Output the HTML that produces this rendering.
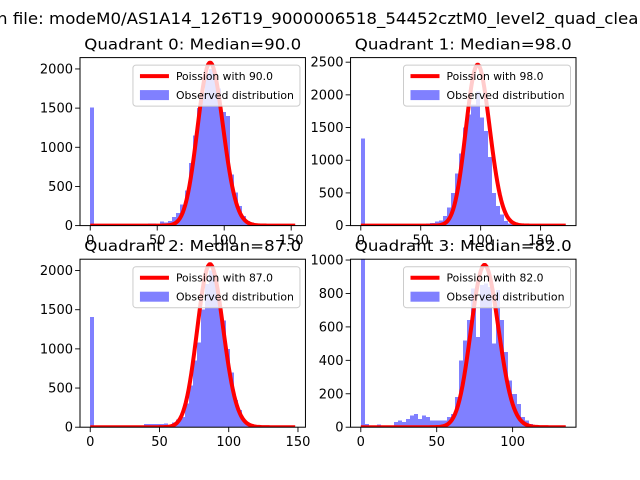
<!DOCTYPE html>
<html><head><meta charset="utf-8">
<style>
html,body{margin:0;padding:0;background:#fff;}
svg{display:block;font-family:"DejaVu Sans","Liberation Sans",sans-serif;}
</style></head>
<body>
<svg id="fig" width="640" height="480" viewBox="0 0 640 480" xmlns="http://www.w3.org/2000/svg">
<rect x="0" y="0" width="640" height="480" fill="#fff"/>
<text x="323" y="24" font-size="16" text-anchor="middle" textLength="652" lengthAdjust="spacingAndGlyphs">n file: modeM0/AS1A14_126T19_9000006518_54452cztM0_level2_quad_clean</text>
</svg>
<script>
const titles = ["Quadrant 0: Median=90.0","Quadrant 1: Median=98.0","Quadrant 2: Median=87.0","Quadrant 3: Median=82.0"];
const medians = [90, 98, 87, 82];
const poissonPeaks = [2080, 2460, 2080, 970];
const dataMax = [153, 171, 148, 135];
const yLimits = [2145, 2570, 2145, 1005];
const yTicks0 = [0,500,1000,1500,2000];
const yTicks1 = [0,500,1000,1500,2000,2500];
const yTicks2 = [0,500,1000,1500,2000];
const yTicks3 = [0,200,400,600,800,1000];
const xTicks0 = [0,50,100,150];
const xTicks1 = [0,50,100,150];
const xTicks2 = [0,50,100,150];
const xTicks3 = [0,50,100];
const q0Counts = [1510,10,5,5,5,5,5,5,5,10,10,15,20,20,30,30,20,50,40,60,110,160,270,450,800,1150,1500,1700,1950,2000,1950,1750,1450,1400,650,420,250,120,60,40,20,10,5,5,3,3,3,3,3,3];
const q1Counts = [1330,10,5,5,5,5,5,5,5,5,5,10,10,10,20,15,30,40,60,80,150,280,500,800,1100,1500,1700,1850,2050,1650,1450,1050,500,300,170,70,30,15,8,5,3,3,3,3,3,3,3,3,3,3];
const q2Counts = [1410,5,5,5,5,5,5,5,5,5,5,10,20,40,40,40,40,40,50,30,60,100,130,300,530,850,1080,1500,1830,2000,1900,1650,1360,1000,700,350,220,80,50,20,10,5,3,3,3,3,3,3,3,3];
const q3Counts = [1100,20,5,3,15,3,3,3,30,40,30,50,70,80,50,70,60,40,40,40,40,60,80,180,400,520,640,830,540,850,860,840,500,820,640,450,280,200,140,60,40,20,10,3,3,3,3,3,3,3];

const NS = "http://www.w3.org/2000/svg";
const svg = document.getElementById("fig");
function mk(tag, attrs, parent){const e=document.createElementNS(NS,tag);for(const k in attrs)e.setAttribute(k,attrs[k]);(parent||svg).appendChild(e);return e;}
function lnFact(n){let s=0;for(let i=2;i<=n;i++)s+=Math.log(i);return s;}

const countsAll=[q0Counts,q1Counts,q2Counts,q3Counts];
const yTicksAll=[yTicks0,yTicks1,yTicks2,yTicks3];
const xTicksAll=[xTicks0,xTicks1,xTicks2,xTicks3];
const AW=225.45, AH=168;
const origins=[[80,57.6],[350.55,57.6],[80,259.2],[350.55,259.2]];

for(let q=0;q<4;q++){
  const [ax,ay]=origins[q];
  const xmax=dataMax[q], xmin0=-0.05*xmax, xmax0=1.05*xmax;
  const ymax=yLimits[q];
  const X=v=>ax+(v-xmin0)/(xmax0-xmin0)*AW;
  const Y=v=>ay+AH-v/ymax*AH;
  const g=mk("g",{});
  
  
  mk("clipPath",{id:"clip"+q},g).appendChild(document.createElementNS(NS,"rect"));
  const cr=g.querySelector("clipPath rect");cr.setAttribute("x",ax);cr.setAttribute("y",ay);cr.setAttribute("width",AW);cr.setAttribute("height",AH);
  const plot=mk("g",{"clip-path":"url(#clip"+q+")"},g);
  const bars=mk("g",{"shape-rendering":"crispEdges"},plot);
  const counts=countsAll[q], n=counts.length, bw=xmax/n;
  for(let i=0;i<n;i++){
    const x0=Math.round(X(i*bw)), x1=Math.round(X((i+1)*bw));
    const b=mk("rect",{x:x0,y:Y(counts[i]),width:x1-x0,height:Y(0)-Y(counts[i]),fill:"#8080ff"},bars);
    
    
  }
  const mu=medians[q], lpm=mu*Math.log(mu)-mu-lnFact(mu);
  let d="";
  for(let k=0;k<=xmax;k++){
    const v=poissonPeaks[q]*Math.exp(k*Math.log(mu)-mu-lnFact(k)-lpm);
    d+=(k?"L":"M")+X(k).toFixed(2)+","+Y(v).toFixed(2);
  }
  const line=mk("path",{d:d,fill:"none",stroke:"#ff0000","stroke-width":"4","stroke-linejoin":"round"},plot);
  
  
  const sp=mk("rect",{x:ax,y:ay,width:AW,height:AH,fill:"none",stroke:"#000","stroke-width":"1"},g);
  
  
  yTicksAll[q].forEach(t=>{
    const yy=Y(t);
    mk("line",{x1:ax-4.9,x2:ax,y1:yy,y2:yy,stroke:"#000","stroke-width":"0.9"},g);
    const tl=mk("text",{x:ax-7,y:yy+4.5,"font-size":"13","text-anchor":"end"},g);
    tl.textContent=t;
    
    
  });
  xTicksAll[q].forEach(t=>{
    const xx=X(t);
    mk("line",{x1:xx,x2:xx,y1:ay+AH,y2:ay+AH+4.9,stroke:"#000","stroke-width":"0.9"},g);
    const tl=mk("text",{x:xx,y:ay+AH+19,"font-size":"13","text-anchor":"middle"},g);
    tl.textContent=t;
    
    
  });
  const tt=mk("text",{x:ax+AW/2,y:ay-8,"font-size":"15","text-anchor":"middle",textLength:"217",lengthAdjust:"spacingAndGlyphs"},g);
  tt.textContent=titles[q];
  
  
  const lx=ax+AW-172.5, ly=ay+7.5;
  const lg=mk("g",{},g);
  
  
  mk("rect",{x:lx,y:ly,width:167,height:41,rx:3,fill:"#fff","fill-opacity":"0.8",stroke:"#cccccc","stroke-width":"1"},lg);
  mk("line",{x1:lx+7,x2:lx+36,y1:ly+11,y2:ly+11,stroke:"#ff0000","stroke-width":"4"},lg);
  const t1=mk("text",{x:lx+43,y:ly+15,"font-size":"11",textLength:"97",lengthAdjust:"spacingAndGlyphs"},lg);
  t1.textContent="Poission with "+mu.toFixed(1);
  
  
  mk("rect",{x:lx+7,y:ly+25,width:29,height:10,fill:"#8080ff"},lg);
  const t2=mk("text",{x:lx+43,y:ly+34,"font-size":"11",textLength:"118",lengthAdjust:"spacingAndGlyphs"},lg);
  t2.textContent="Observed distribution";
  
  
}
</script>
</body></html>
